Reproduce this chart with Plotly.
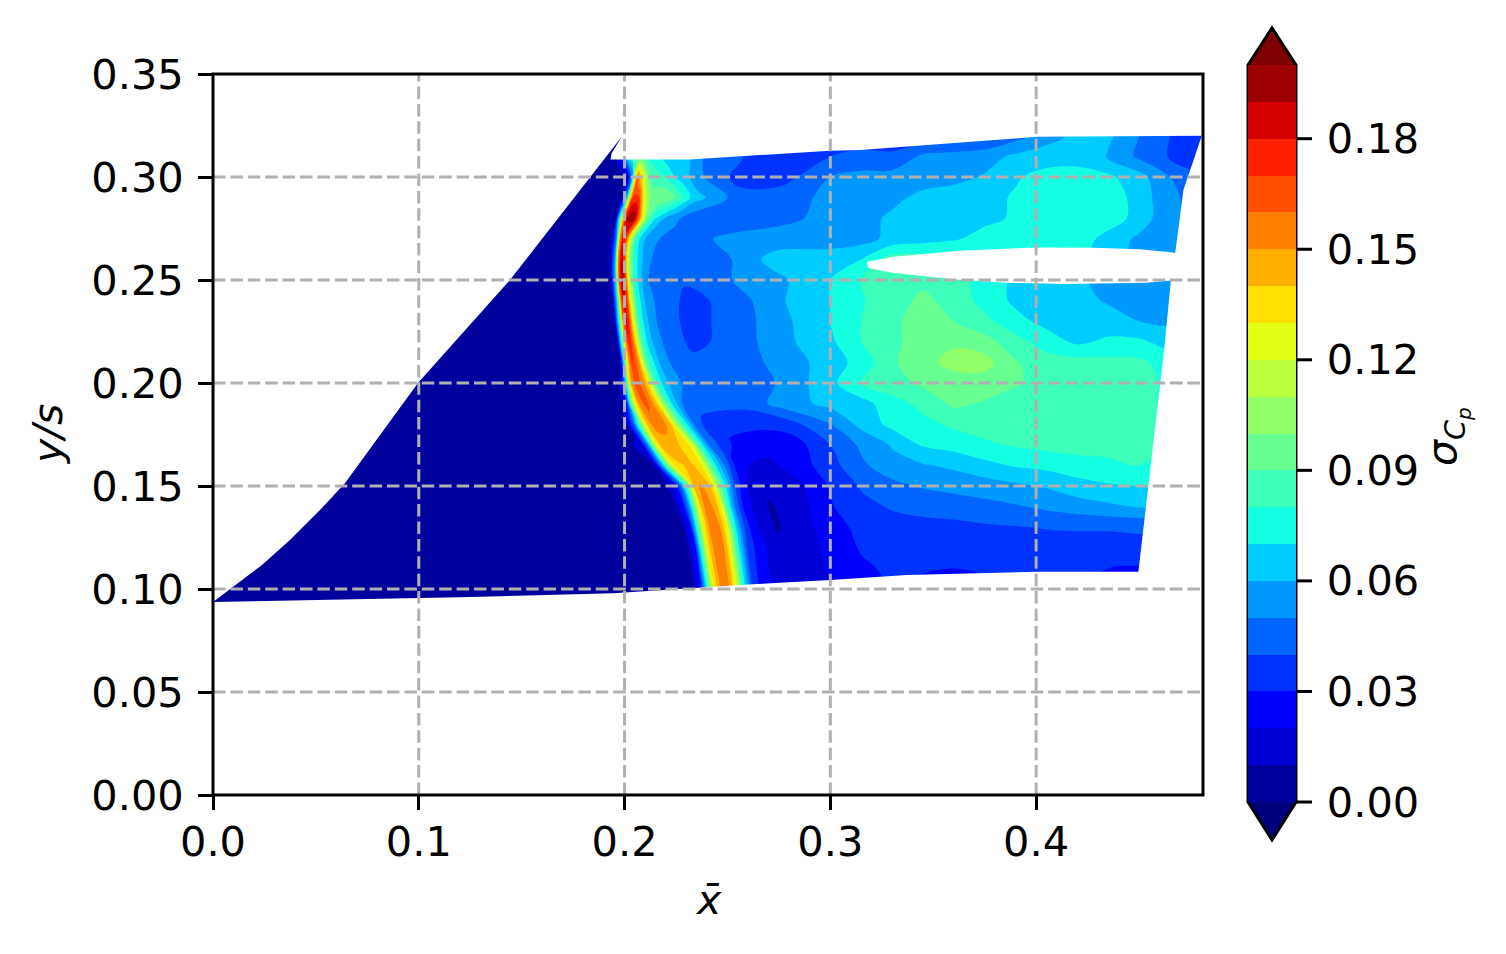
import plotly.graph_objects as go

# ---------- data ----------
y_rows = [.09,.10,.11,.12,.13,.14,.15,.16,.17,.18,.19,.20,.21,.22,.23,.24,.25,.26,.27,.28,.29,.30,.31,.32,.33]
shock_x = [.2495,.2490,.2478,.2465,.2440,.2405,.2365,.2305,.2235,.2165,.2100,.2060,.2040,.2022,.2008,.1998,.1988,.1985,.1990,.2015,.2040,.2065,.2075,.2080,.2080]
near_offset = [-.27,-.03,-.016,-.012,-.009,-.006,-.003,-.0015,0,.0015,.003,.006,.009,.013,.018,.024,.03]
blend_base = [.265,.28]
blend_weight = [.6,.3]
far_x = [.30,.315,.33,.345,.36,.375,.39,.405,.42,.435,.45,.465,.49]

sigma_cp = [
 [.004,.004,.006,.025,.075,.125,.148,.153,.155,.152,.145,.115,.075,.04,.025,.02,.016,.016,.017,.019,.026,.03,.027,.026,.028,.031,.032,.031,.026,.024,.025,.025],
 [.004,.004,.006,.025,.075,.125,.148,.153,.155,.152,.145,.115,.075,.04,.025,.02,.016,.016,.017,.019,.026,.03,.027,.026,.028,.031,.032,.031,.026,.024,.025,.025],
 [.004,.004,.006,.028,.08,.13,.15,.153,.155,.151,.145,.115,.075,.04,.025,.018,.014,.014,.016,.021,.028,.032,.031,.030,.031,.033,.034,.033,.03,.029,.03,.03],
 [.004,.004,.006,.03,.085,.135,.152,.155,.157,.152,.145,.112,.072,.04,.026,.018,.012,.013,.016,.023,.031,.035,.036,.035,.035,.036,.036,.036,.036,.037,.037,.037],
 [.004,.004,.007,.027,.075,.125,.15,.155,.157,.153,.148,.125,.08,.045,.025,.015,.009,.012,.015,.027,.032,.036,.037,.037,.0385,.0395,.0405,.041,.041,.0415,.042,.042],
 [.004,.004,.008,.025,.055,.105,.145,.151,.155,.152,.147,.135,.09,.05,.025,.016,.009,.012,.017,.029,.037,.041,.043,.045,.047,.049,.052,.055,.058,.061,.062,.062],
 [.004,.004,.008,.022,.05,.09,.14,.147,.151,.15,.147,.137,.105,.068,.035,.018,.012,.014,.018,.031,.041,.047,.051,.053,.055,.058,.061,.066,.069,.070,.071,.071],
 [.004,.004,.01,.06,.105,.135,.139,.14,.14,.14,.14,.137,.115,.075,.05,.026,.02,.018,.024,.036,.048,.056,.059,.062,.067,.071,.073,.076,.077,.08,.078,.078],
 [.004,.004,.012,.055,.115,.142,.147,.146,.145,.143,.14,.137,.125,.08,.047,.036,.028,.023,.024,.04,.052,.061,.071,.074,.078,.081,.083,.084,.085,.083,.079,.079],
 [.004,.004,.006,.045,.09,.138,.152,.154,.155,.154,.152,.14,.105,.075,.045,.036,.034,.033,.035,.05,.063,.073,.077,.082,.085,.086,.084,.083,.085,.085,.078,.078],
 [.004,.004,.004,.006,.03,.11,.15,.158,.163,.16,.155,.137,.105,.07,.05,.045,.044,.043,.055,.063,.066,.076,.083,.092,.089,.086,.083,.083,.083,.084,.077,.077],
 [.004,.004,.004,.004,.004,.05,.145,.158,.165,.161,.155,.13,.085,.066,.053,.048,.045,.044,.051,.067,.08,.086,.092,.097,.095,.091,.087,.085,.086,.085,.077,.077],
 [.004,.004,.004,.004,.004,.01,.12,.155,.172,.163,.15,.10,.075,.06,.05,.045,.043,.045,.053,.065,.074,.088,.098,.102,.104,.091,.085,.084,.083,.082,.076,.076],
 [.004,.004,.004,.004,.004,.006,.10,.155,.178,.165,.14,.09,.068,.055,.047,.044,.037,.044,.056,.068,.08,.087,.096,.099,.094,.084,.075,.068,.072,.072,.066,.066],
 [.004,.004,.004,.004,.004,.005,.09,.16,.185,.17,.135,.085,.065,.053,.045,.042,.036,.044,.056,.07,.08,.087,.096,.09,.083,.073,.067,.066,.064,.06,.058,.058],
 [.004,.004,.004,.004,.004,.004,.08,.16,.188,.17,.13,.082,.063,.052,.046,.044,.036,.044,.058,.07,.079,.086,.092,.087,.076,.068,.066,.063,.059,.056,.055,.055],
 [.004,.004,.004,.004,.004,.004,.07,.165,.195,.178,.125,.08,.062,.05,.043,.042,.042,.05,.057,.07,.08,.085,.088,.084,.076,.068,.065,.063,.055,.054,.054,.054],
 [.004,.004,.004,.004,.004,.004,.06,.155,.192,.17,.12,.08,.064,.052,.046,.045,.045,.05,.065,.065,.07,.085,.085,.082,.075,.072,.072,.072,.065,.056,.05,.05],
 [.004,.004,.004,.004,.004,.005,.05,.14,.18,.172,.14,.085,.066,.054,.05,.047,.047,.052,.053,.055,.056,.063,.066,.069,.073,.076,.077,.076,.066,.058,.052,.048],
 [.004,.004,.004,.004,.004,.006,.11,.165,.19,.196,.198,.15,.10,.072,.06,.052,.045,.045,.048,.052,.056,.062,.064,.066,.068,.071,.076,.077,.076,.066,.052,.044],
 [.004,.004,.004,.004,.004,.006,.06,.125,.17,.175,.17,.12,.095,.10,.097,.08,.065,.045,.046,.052,.054,.057,.063,.065,.067,.071,.076,.077,.076,.066,.052,.042],
 [.004,.004,.004,.004,.004,.005,.05,.12,.16,.14,.12,.09,.085,.08,.07,.062,.052,.035,.035,.05,.053,.054,.055,.057,.061,.069,.073,.073,.072,.064,.05,.036],
 [.004,.004,.004,.006,.03,.07,.08,.083,.085,.083,.08,.075,.07,.065,.07,.06,.05,.04,.04,.04,.043,.042,.052,.054,.056,.062,.066,.067,.059,.048,.039,.032],
 [.004,.004,.004,.004,.004,.004,.05,.055,.06,.06,.06,.06,.055,.05,.05,.045,.04,.036,.034,.034,.034,.034,.034,.035,.038,.046,.055,.063,.062,.05,.04,.03],
 [.004,.004,.004,.004,.004,.004,.05,.055,.06,.06,.06,.06,.055,.05,.05,.045,.04,.036,.034,.034,.034,.034,.034,.035,.038,.046,.055,.063,.062,.05,.04,.03],
]

band_colors = ["#00009c","#0000d6","#0000ff","#0033ff","#0066ff","#0099ff","#00ccff","#15ffe2","#3effb9","#67ff90",
               "#90ff67","#b9ff3e","#e2ff15","#ffde00","#ffaf00","#ff8000","#ff5000","#ff2100","#d60000","#9c0000"]
under_color = "#00007f"
over_color = "#7f0000"
level_start, level_end, level_size = 0.0, 0.2, 0.01

x_ticks = [0.0,0.1,0.2,0.3,0.4]
y_ticks = [0.0,0.05,0.10,0.15,0.20,0.25,0.30,0.35]
cbar_ticks = [0.0,0.03,0.06,0.09,0.12,0.15,0.18]
x_range = [0,0.4811]
y_range = [0,0.35]

# outline of the measured region
left_edge = [(0,.0937),(.0238,.1117),(.0374,.1238),(.052,.1383),(.0642,.1515),(.0996,.2),(.1443,.25),(.1986,.3195)]
top_edge = [(.1937,.3115),(.1932,.3085),(.2318,.3085),(.30,.3128),(.3145,.3131),(.4005,.3195),(.4805,.32)]
bottom_edge = [(0,.0937),(.125,.0961),(.1945,.0979),(.2382,.1008),(.2642,.1024),(.30,.1044),(.3145,.1052),(.3372,.1068),(.3995,.1084),(.4497,.1084)]
right_low_edge = [(.4622,.216),(.4655,.2497)]
slit_low_edge = [(.4538,.2487),(.4149,.248),(.3857,.2487),(.3613,.2503),(.3306,.2534),(.3184,.2558),(.3177,.2589)]
slit_up_edge = [(.3306,.2613),(.3630,.2642),(.4003,.2658),(.4278,.2657),(.4505,.2649),(.4676,.2632)]
right_up_edge = [(.4716,.2937),(.4805,.32)]

# ---------- geometry (page body has an 8 px margin) ----------
W, H = 1506, 954
PAGE = 8
L, R, T, B = 213, 1203, 74, 795
PW, PH = R-L, B-T
CB_L, CB_R, CB_LOW, CB_HIGH = 1248, 1296, 802, 65
def px(x): return (x-L)/PW
def py(y): return (B-y)/PH
def cb_y(v): return CB_LOW-(CB_LOW-CB_HIGH)*(v-level_start)/(level_end-level_start)

carpet_x, carpet_y = [], []
for yv, s in zip(y_rows, shock_x):
    row = [s+d for d in near_offset]
    row += [b+w*(s-.22) for b, w in zip(blend_base, blend_weight)]
    row += far_x
    carpet_x.append(row)
    carpet_y.append([yv]*len(row))
a_idx = list(range(len(carpet_x[0])))
b_idx = list(range(len(y_rows)))

scale = []
n = len(band_colors)
for i, c in enumerate(band_colors):
    scale += [[i/n, c], [(i+1)/n, c]]

TICK = 41.5
font = dict(family="DejaVu Sans", size=TICK, color="black")

fig = go.Figure()
hidden = dict(showgrid=False, showticklabels="none", showline=False, startline=False, endline=False,
              minorgridcount=0, tickmode="array", tickvals=[])
fig.add_trace(go.Carpet(carpet="c", a=a_idx, b=b_idx, x=carpet_x, y=carpet_y,
                        aaxis=dict(hidden, smoothing=0), baxis=dict(hidden, smoothing=1)))
fig.add_trace(go.Contourcarpet(
    carpet="c", a=a_idx, b=b_idx, z=sigma_cp, autocontour=False, colorscale=scale, zmin=level_start, zmax=level_end,
    contours=dict(start=level_start, end=level_end, size=level_size, coloring="fill"),
    line=dict(width=0),
    colorbar=dict(x=px(CB_L), xanchor="left", xpad=0, y=py(CB_LOW), yanchor="bottom", ypad=0,
                  thickness=CB_R-CB_L, thicknessmode="pixels", len=CB_LOW-CB_HIGH, lenmode="pixels",
                  outlinewidth=0, tickmode="array", tickvals=cbar_ticks, tickformat=".2f",
                  ticks="outside", ticklen=23, tickwidth=3, tickcolor="rgba(0,0,0,0)", tickfont=font)))

mask_top = left_edge + top_edge + [(.5,.32),(.5,.37),(-.02,.37),(-.02,.0937)]
mask_low = bottom_edge + right_low_edge + slit_low_edge + slit_up_edge + right_up_edge + [(.5,.32),(.5,-.02),(-.02,-.02),(-.02,.0937)]
for m in (mask_top, mask_low):
    fig.add_trace(go.Scatter(x=[p[0] for p in m], y=[p[1] for p in m], mode="lines", fill="toself",
                             fillcolor="white", line=dict(width=0), hoverinfo="skip", showlegend=False))

grid = dict(type="line", line=dict(color="#b0b0b0", width=3, dash="12.5px,4.9px"), layer="above")
shapes = []
for t in x_ticks[1:]:
    shapes.append(dict(grid, xref="x", yref="paper", x0=t, x1=t, y0=0, y1=1))
for t in y_ticks[1:-1]:
    shapes.append(dict(grid, xref="paper", yref="y", x0=0, x1=1, y0=t, y1=t))
shapes.append(dict(type="rect", xref="paper", yref="paper", x0=0, x1=1, y0=0, y1=1,
                   line=dict(color="black", width=3), layer="above"))

# colour-bar end caps, ticks and frame
def tri(x0, x1, tip, base):
    return f"M{px(x0)},{py(base)} L{px((x0+x1)/2)},{py(tip)} L{px(x1)},{py(base)} Z"
shapes.append(dict(type="path", xref="paper", yref="paper", path=tri(CB_L,CB_R,28,CB_HIGH), fillcolor=over_color, line=dict(width=0), layer="above"))
shapes.append(dict(type="path", xref="paper", yref="paper", path=tri(CB_L,CB_R,840,CB_LOW), fillcolor=under_color, line=dict(width=0), layer="above"))
frame = (f"M{px(CB_L)},{py(CB_LOW)} L{px(1272)},{py(840)} L{px(CB_R)},{py(CB_LOW)} L{px(CB_R)},{py(CB_HIGH)} "
         f"L{px(1272)},{py(28)} L{px(CB_L)},{py(CB_HIGH)} Z")
shapes.append(dict(type="path", xref="paper", yref="paper", path=frame, line=dict(color="black", width=3), layer="above"))
for v in cbar_ticks:
    shapes.append(dict(type="line", xref="paper", yref="paper", x0=px(CB_R), x1=px(CB_R+16), y0=py(cb_y(v)), y1=py(cb_y(v)),
                       line=dict(color="black", width=3), layer="above"))

ax = dict(showgrid=False, zeroline=False, showline=False,
          ticks="outside", ticklen=14, tickwidth=3, tickcolor="black", tickfont=font)
label = dict(xref="paper", yref="paper", showarrow=False, xanchor="center", yanchor="middle")
fig.update_layout(
    width=W-PAGE, height=H-PAGE, margin=dict(l=L-PAGE, r=W-R, t=T-PAGE, b=H-B, pad=0), autosize=False,
    paper_bgcolor="white", plot_bgcolor="white", showlegend=False, shapes=shapes,
    font=font,
    xaxis=dict(ax, range=x_range, tickvals=x_ticks, tickformat=".1f", ticklabelstandoff=-4),
    yaxis=dict(ax, range=y_range, tickvals=y_ticks, tickformat=".2f", ticklabelstandoff=6),
    annotations=[
        dict(label, text="<i>x̄</i>", x=px(708), y=py(900), font=dict(font, size=41)),
        dict(label, text="<i>y/s</i>", x=px(48), y=py(435), textangle=-90, font=dict(font, size=41)),
        dict(label, text="<i>σ<sub>C<sub>p</sub></sub></i>", x=px(1447), y=py(437), textangle=-90, font=dict(font, size=41)),
    ],
)
fig.write_html("out.html")
